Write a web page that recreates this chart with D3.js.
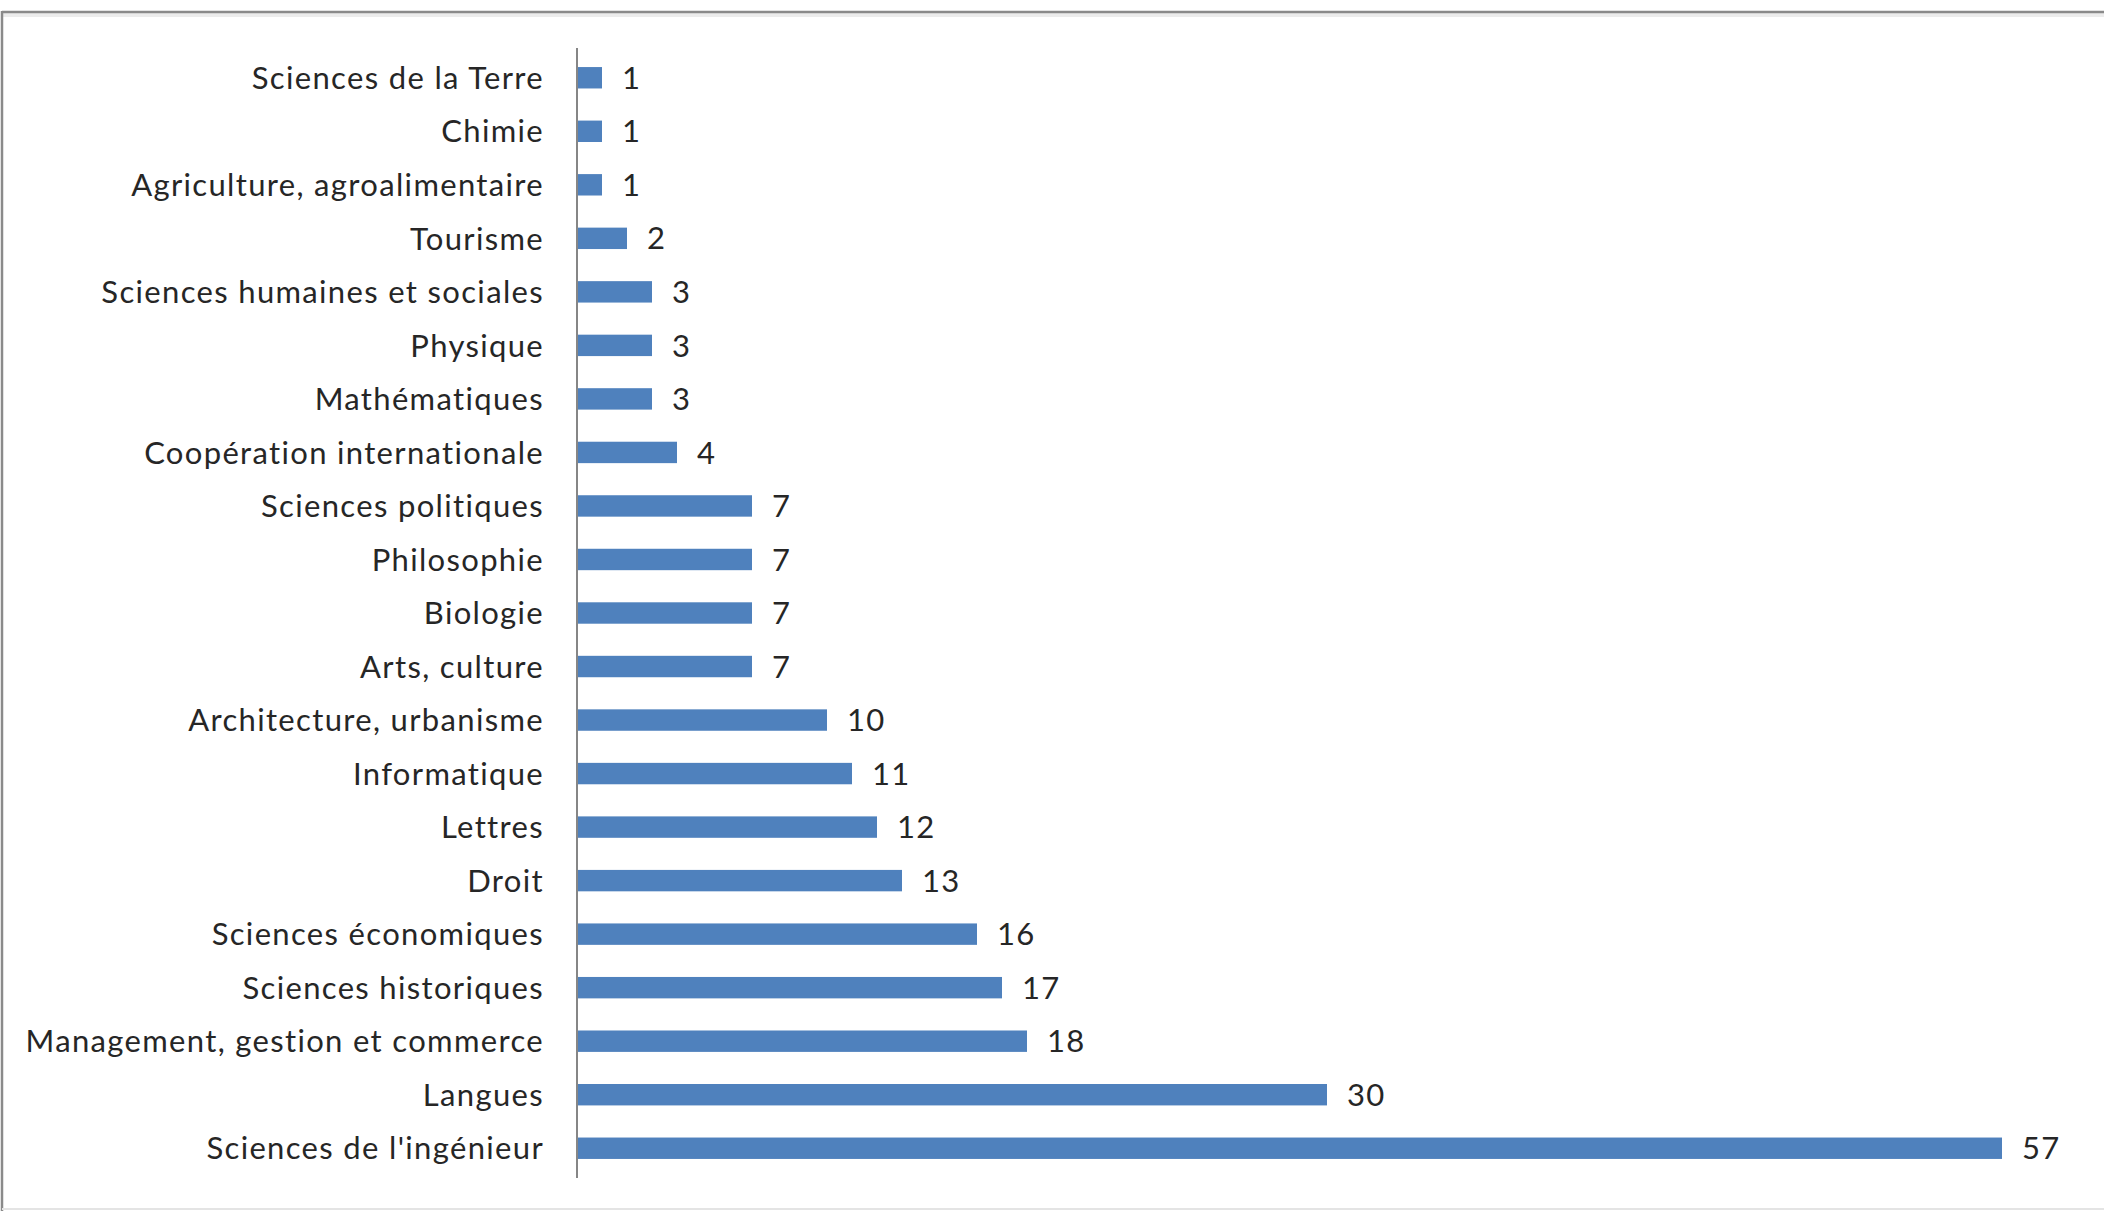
<!DOCTYPE html>
<html>
<head>
<meta charset="utf-8">
<script src="https://cdn.jsdelivr.net/npm/d3@7"></script>
<style>
  body { margin:0; background:#fff; }
  svg { display:block; }
  .label { font-family: Lato, "Liberation Sans", sans-serif; fill:#262626; }
</style>
</head>
<body>
<div id="chart"></div>
<script>
// disciplines, du haut vers le bas
var categories = ["Sciences de la Terre","Chimie","Agriculture, agroalimentaire","Tourisme",
  "Sciences humaines et sociales","Physique","Mathématiques","Coopération internationale",
  "Sciences politiques","Philosophie","Biologie","Arts, culture","Architecture, urbanisme",
  "Informatique","Lettres","Droit","Sciences économiques","Sciences historiques",
  "Management, gestion et commerce","Langues","Sciences de l'ingénieur"];
var values = [1,1,1,2,3,3,3,4,7,7,7,7,10,11,12,13,16,17,18,30,57];
var xDomain = [0,60];

var width = 2104, height = 1211;
var data = categories.map(function(c,i){ return {cat:c, val:values[i]}; });

var svg = d3.select("#chart").append("svg")
  .attr("width", width).attr("height", height);

// cadre (bordure du graphique excel, coupée à droite et en bas)
svg.append("line").attr("x1",2).attr("x2",width).attr("y1",15).attr("y2",15)
  .style("stroke","#ececec").style("stroke-width",4);
svg.append("line").attr("x1",2).attr("x2",width).attr("y1",12).attr("y2",12)
  .style("stroke","#8a8a8a").style("stroke-width",2.5);
svg.append("line").attr("x1",2).attr("x2",2).attr("y1",11).attr("y2",height)
  .style("stroke","#8a8a8a").style("stroke-width",2.5);
svg.append("line").attr("x1",2).attr("x2",width).attr("y1",1209).attr("y2",1209)
  .style("stroke","#e4e4e4").style("stroke-width",2);

var x = d3.scaleLinear().domain(xDomain).range([577, 2077]);
var y = d3.scaleBand().domain(categories).range([51, 1175])
  .paddingInner(0.6).paddingOuter(0.3);

// police 31px, espacement des lettres ajusté sur le libellé le plus long
var fs = 31;
var longest = "Management, gestion et commerce";
var probe = svg.append("text").attr("class","label").style("font-size",fs+"px").text(longest);
var ls = (519 - probe.node().getComputedTextLength()) / longest.length;
probe.remove();
ls = Math.max(0, ls);

svg.selectAll("rect.bar").data(data).enter().append("rect")
  .attr("class","bar")
  .attr("x", x(0))
  .attr("y", d=>y(d.cat))
  .attr("width", d=>x(d.val)-x(0))
  .attr("height", y.bandwidth())
  .style("fill","#4f81bd");

svg.selectAll("text.val").data(data).enter().append("text")
  .attr("class","label val")
  .attr("x", d=>x(d.val)+20)
  .attr("y", d=>y(d.cat)+y.bandwidth()/2)
  .attr("dy","0.36em")
  .style("font-size", fs+"px")
  .style("letter-spacing", ls+"px")
  .text(d=>d.val);

var axis = svg.append("g")
  .attr("transform","translate("+x(0)+",0)")
  .call(d3.axisLeft(y).tickSize(0).tickPadding(33));
axis.select(".domain").style("stroke","#868686").style("stroke-width",2)
  .attr("d","M0,48V1178");
axis.selectAll(".tick text").attr("class","label")
  .style("font-size", fs+"px").style("letter-spacing", ls+"px")
  .attr("fill","#262626").attr("dy","0.36em");
</script>
</body>
</html>
